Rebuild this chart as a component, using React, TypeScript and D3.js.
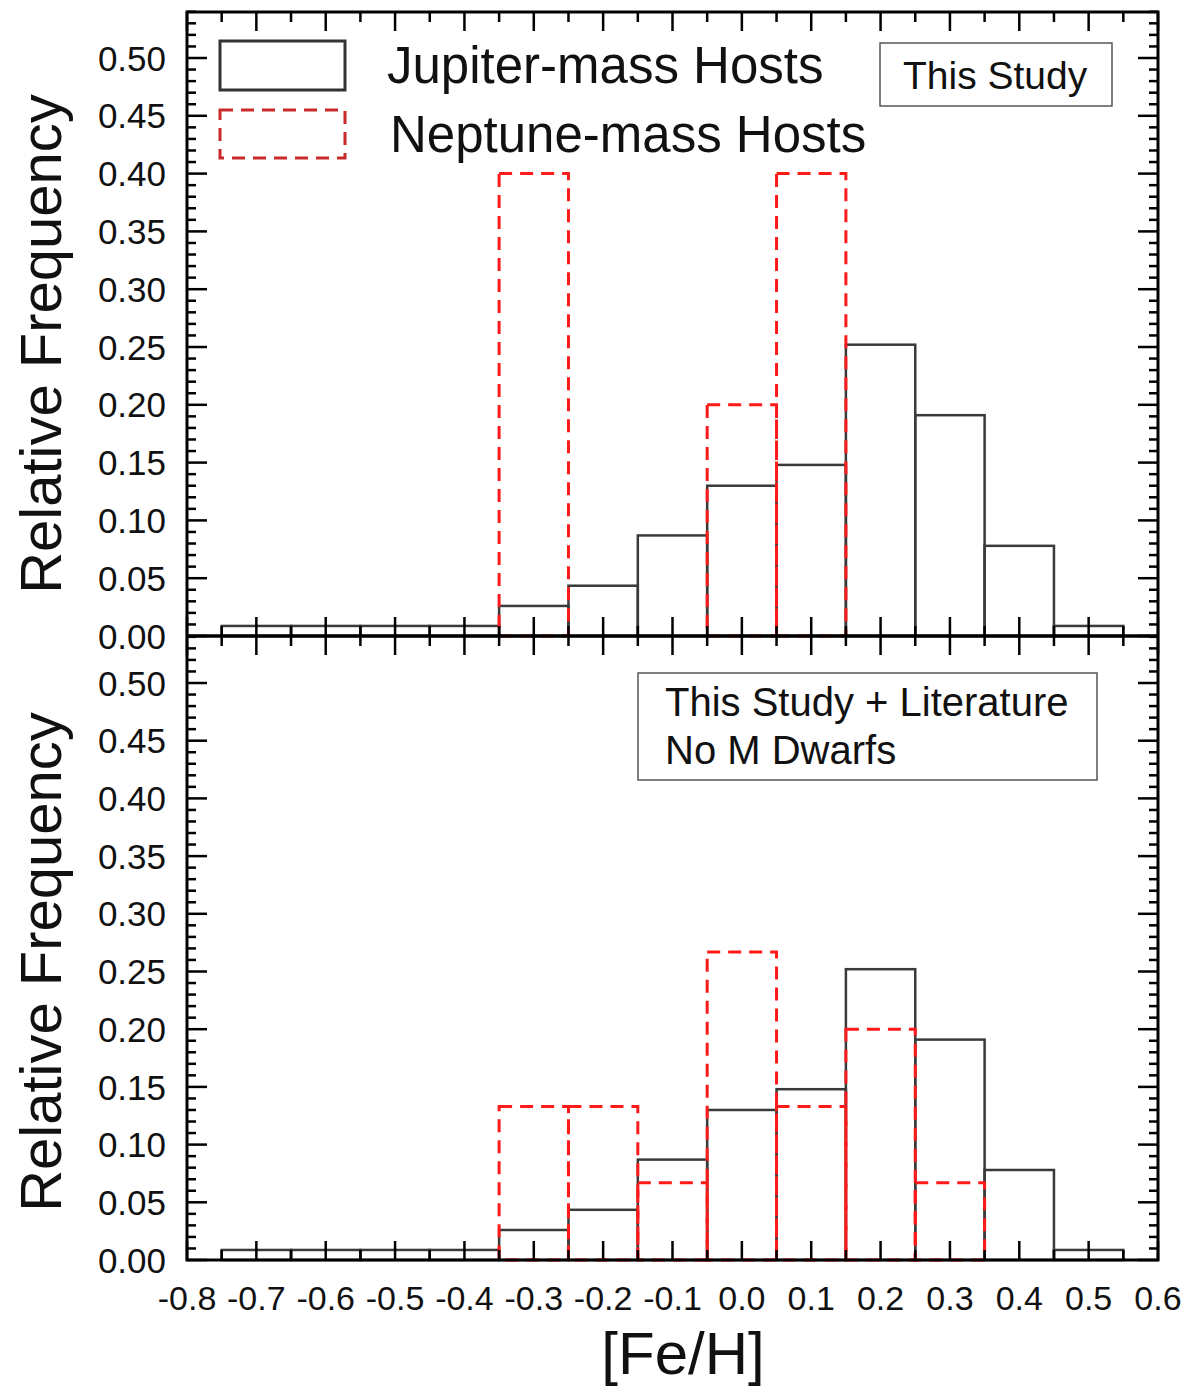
import React from "react";
import * as d3 from "d3";

const binStarts = [-0.75, -0.65, -0.55, -0.45, -0.35, -0.25, -0.15, -0.05, 0.05, 0.15, 0.25, 0.35, 0.45];
const jupiterFreq = [0.0087, 0.0087, 0.0087, 0.0087, 0.026, 0.0435, 0.087, 0.13, 0.148, 0.252, 0.191, 0.078, 0.0087];
const neptuneTop = [0, 0, 0, 0, 0.4, 0, 0, 0.2, 0.4, 0, 0, 0, 0];
const neptuneBottom = [0, 0, 0, 0, 0.133, 0.133, 0.067, 0.267, 0.133, 0.2, 0.067, 0, 0];
const xTickLabels = ["-0.8", "-0.7", "-0.6", "-0.5", "-0.4", "-0.3", "-0.2", "-0.1", "0.0", "0.1", "0.2", "0.3", "0.4", "0.5", "0.6"];
const yTickLabels = ["0.00", "0.05", "0.10", "0.15", "0.20", "0.25", "0.30", "0.35", "0.40", "0.45", "0.50"];
const binWidth = 0.1;

const FONT = "'Liberation Sans', Arial, Helvetica, sans-serif";
const LEFT = 187, RIGHT = 1158;
const TOP1 = 12, BOT1 = 636, BOT2 = 1260;

const x = d3.scaleLinear().domain([-0.8, 0.6]).range([LEFT, RIGHT]);
const yTop = d3.scaleLinear().domain([0, 0.5]).range([BOT1, 58]);
const yBot = d3.scaleLinear().domain([0, 0.5]).range([BOT2, 683]);

function Panel({ y, red, showXLabels }: { y: d3.ScaleLinear<number, number>; red: number[]; showXLabels: boolean }) {
  const minorY = d3.range(0, 55).map((i) => i / 100);
  return (
    <g>
      {binStarts.map((b, i) =>
        jupiterFreq[i] > 0 ? (
          <rect key={"j" + i} x={x(b)} y={y(jupiterFreq[i])} width={x(b + binWidth) - x(b)} height={y(0) - y(jupiterFreq[i])}
            fill="none" stroke="#3a3a3a" strokeWidth={2.5} />
        ) : null
      )}
      {binStarts.map((b, i) =>
        red[i] > 0 ? (
          <rect key={"n" + i} x={x(b)} y={y(red[i])} width={x(b + binWidth) - x(b)} height={y(0) - y(red[i])}
            fill="none" stroke="#ff1a1a" strokeWidth={3} strokeDasharray="13 8" />
        ) : null
      )}
      {minorY.map((v, i) => {
        const yy = y(v);
        const major = i % 5 === 0;
        const len = major ? 20 : 9;
        return (
          <g key={"yt" + i}>
            <line x1={LEFT} x2={LEFT + len} y1={yy} y2={yy} stroke="#000" strokeWidth={2.5} />
            <line x1={RIGHT} x2={RIGHT - len} y1={yy} y2={yy} stroke="#000" strokeWidth={2.5} />
          </g>
        );
      })}
      {yTickLabels.map((t, i) => (
        <text key={"yl" + i} x={166} y={y(+t)} dy="0.36em" textAnchor="end" fontFamily={FONT} fontSize={35} fill="#111">
          {t}
        </text>
      ))}
      {showXLabels &&
        xTickLabels.map((t, i) => (
          <text key={"xl" + i} x={x(+t)} y={1310} textAnchor="middle" fontFamily={FONT} fontSize={34} fill="#111">
            {t}
          </text>
        ))}
    </g>
  );
}

export default function App() {
  const xTicks = d3.range(0, 29).map((i) => -0.8 + i * 0.05);
  return (
    <svg width={1190} height={1391} style={{ position: "absolute", left: 0, top: 0, background: "#fff" }}>
      <rect x={0} y={0} width={1190} height={1391} fill="#fff" />
      <Panel y={yTop} red={neptuneTop} showXLabels={false} />
      <Panel y={yBot} red={neptuneBottom} showXLabels={true} />
      {xTicks.map((v, i) => {
        const xx = x(v);
        const major = i % 2 === 0;
        const len = major ? 19 : 10;
        return (
          <g key={"xt" + i}>
            <line x1={xx} x2={xx} y1={TOP1} y2={TOP1 + len} stroke="#000" strokeWidth={2.5} />
            <line x1={xx} x2={xx} y1={BOT1 - len} y2={BOT1 + len} stroke="#000" strokeWidth={2.5} />
            <line x1={xx} x2={xx} y1={BOT2} y2={BOT2 - len} stroke="#000" strokeWidth={2.5} />
          </g>
        );
      })}
      <rect x={LEFT} y={TOP1} width={RIGHT - LEFT} height={BOT2 - TOP1} fill="none" stroke="#000" strokeWidth={3} />
      <line x1={LEFT} x2={RIGHT} y1={BOT1} y2={BOT1} stroke="#000" strokeWidth={3.5} />

      <rect x={220} y={41} width={125} height={49} fill="#fff" stroke="#333" strokeWidth={3} />
      <text x={387} y={83} fontFamily={FONT} fontSize={51} fill="#111">Jupiter-mass Hosts</text>
      <rect x={220} y={110} width={125} height={48} fill="#fff" stroke="#cc2a2a" strokeWidth={3} strokeDasharray="13 8" />
      <text x={390} y={152} fontFamily={FONT} fontSize={51} fill="#111">Neptune-mass Hosts</text>

      <rect x={880} y={43} width={232} height={63} fill="#fff" stroke="#555" strokeWidth={1.5} />
      <text x={903} y={89} fontFamily={FONT} fontSize={39} fill="#111">This Study</text>
      <rect x={638} y={673} width={459} height={107} fill="#fff" stroke="#555" strokeWidth={1.5} />
      <text x={665} y={716} fontFamily={FONT} fontSize={40} fill="#111">This Study + Literature</text>
      <text x={665} y={764} fontFamily={FONT} fontSize={40} fill="#111">No M Dwarfs</text>

      <text transform={`translate(61,${(TOP1 + BOT1) / 2 + 20}) rotate(-90)`} textAnchor="middle" fontFamily={FONT} fontSize={58} fill="#111">
        Relative Frequency
      </text>
      <text transform={`translate(61,${(BOT1 + BOT2) / 2 + 14}) rotate(-90)`} textAnchor="middle" fontFamily={FONT} fontSize={58} fill="#111">
        Relative Frequency
      </text>
      <text x={683} y={1374} textAnchor="middle" fontFamily={FONT} fontSize={60} fill="#111">[Fe/H]</text>
    </svg>
  );
}
